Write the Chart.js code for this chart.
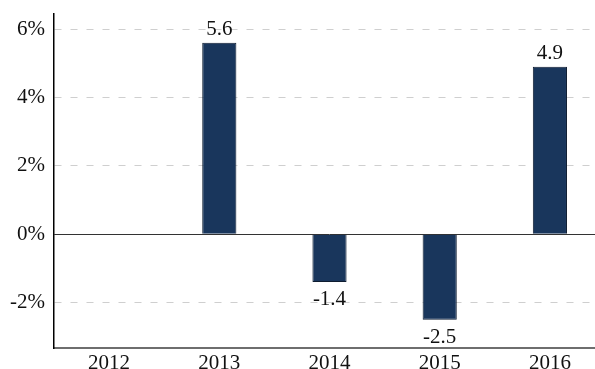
<!DOCTYPE html>
<html>
<head>
<meta charset="utf-8">
<script src="https://cdn.jsdelivr.net/npm/chart.js@4/dist/chart.umd.min.js"></script>
<style>
  html, body { margin: 0; padding: 0; background: #fff; overflow: hidden; }
  #wrap { width: 605px; height: 369px; }
</style>
</head>
<body>
<div id="wrap"><canvas id="c"></canvas></div>
<script>
// Annual change, percent
const years = ['2012', '2013', '2014', '2015', '2016'];
const changes = [null, 5.6, -1.4, -2.5, 4.9];
const yTicks = [-2, 0, 2, 4, 6];

const serif = '"Liberation Serif", "Times New Roman", serif';

// value labels above positive bars and below negative ones, plus a solid zero line
const barValueLabels = {
  id: 'barValueLabels',
  afterDatasetsDraw(chart) {
    const ctx = chart.ctx;
    const meta = chart.getDatasetMeta(0);
    ctx.save();
    ctx.font = '21px ' + serif;
    ctx.fillStyle = '#111';
    ctx.textAlign = 'center';
    ctx.textBaseline = 'alphabetic';
    meta.data.forEach((bar, i) => {
      const v = changes[i];
      if (v === null || v === undefined) return;
      const txt = v.toFixed(1);
      if (v >= 0) ctx.fillText(txt, bar.x, bar.y - 8);
      else ctx.fillText(txt, bar.x, bar.y + 23);
    });
    ctx.restore();
  },
  beforeDatasetsDraw(chart) {
    const ctx = chart.ctx;
    const y0 = Math.round(chart.scales.y.getPixelForValue(0)) + 0.5;
    ctx.save();
    ctx.strokeStyle = '#333';
    ctx.lineWidth = 1;
    ctx.beginPath();
    ctx.moveTo(chart.chartArea.left, y0);
    ctx.lineTo(chart.chartArea.right, y0);
    ctx.stroke();
    ctx.restore();
  }
};

new Chart(document.getElementById('c'), {
  type: 'bar',
  data: {
    labels: years,
    datasets: [{
      data: changes,
      backgroundColor: '#19365c',
      borderColor: '#0e1c30',
      borderWidth: 1,
      barPercentage: 0.62,
      categoryPercentage: 0.5
    }]
  },
  options: {
    responsive: true,
    maintainAspectRatio: false,
    animation: false,
    layout: { padding: { top: 14, right: 0, left: 0, bottom: 0 } },
    plugins: { legend: { display: false }, tooltip: { enabled: false } },
    scales: {
      x: {
        offset: true,
        grid: { display: false, drawTicks: false },
        border: { display: true, color: '#6e6e6e', width: 2 },
        ticks: { color: '#111', font: { family: serif, size: 21 }, padding: 3, maxRotation: 0 },
        afterFit(scale) {
          scale.height = 21;
          scale.paddingLeft = 0;
          scale.paddingRight = 0;
        }
      },
      y: {
        min: -3.33,
        max: 6.44,
        afterBuildTicks(scale) { scale.ticks = yTicks.map(v => ({ value: v })); },
        grid: {
          drawTicks: false,
          color: ctx => (ctx.tick && ctx.tick.value === 0) ? 'rgba(0,0,0,0)' : '#cfcfcf',
          lineWidth: 1
        },
        border: { display: true, color: '#000', width: 1.5, dash: [7, 9] },
        ticks: {
          color: '#111',
          font: { family: serif, size: 21 },
          padding: 9,
          callback: v => v + '%'
        },
        afterFit(scale) {
          scale.width = 54;
          scale.paddingTop = 0;
          scale.paddingBottom = 0;
        }
      }
    }
  },
  plugins: [barValueLabels]
});
</script>
</body>
</html>
